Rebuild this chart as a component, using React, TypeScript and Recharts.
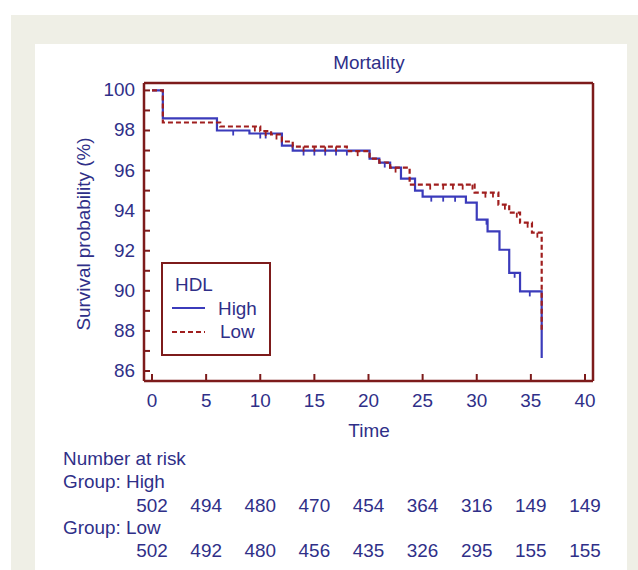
import React from 'react';
import { ComposedChart, Line, Scatter, XAxis, YAxis, Legend, ReferenceLine } from 'recharts';

// ---- data ----
const highTime = [0, 1, 6, 9, 12, 13, 20.1, 21, 22, 23, 24.3, 25, 29, 30, 31, 32.1, 33, 34, 36];
const highSurv = [100, 98.6, 98.0, 97.85, 97.25, 97.0, 96.6, 96.4, 96.15, 95.6, 95.0, 94.7, 94.4, 93.55, 92.97, 92.05, 90.9, 89.97, 86.65];
const lowTime = [0, 1, 6.3, 10, 11, 12, 13, 18, 20.1, 21, 22, 23.8, 29.8, 32, 33, 34, 35.1, 36];
const lowSurv = [100, 98.4, 98.2, 97.97, 97.8, 97.45, 97.2, 96.97, 96.6, 96.4, 96.15, 95.3, 94.9, 94.3, 93.9, 93.4, 92.9, 88.0];
const highCensor = [7.5, 10, 10.5, 14, 15, 16, 17, 18, 21.5, 25.8, 26.9, 28, 30.9, 33.5, 34.9];
const lowCensor = [9.5, 10.5, 11.5, 14, 15, 16, 17, 19, 22.5, 25.7, 26.9, 27.8, 28.7, 29.6, 30.8, 31.5, 32.6, 33.7, 34.7, 35.6];
const xTicks = [0, 5, 10, 15, 20, 25, 30, 35, 40];
const yTicks = [86, 87, 88, 89, 90, 91, 92, 93, 94, 95, 96, 97, 98, 99, 100];
const yLabelTicks = [86, 88, 90, 92, 94, 96, 98, 100];
const riskHigh = [502, 494, 480, 470, 454, 364, 316, 149, 149];
const riskLow = [502, 492, 480, 456, 435, 326, 295, 155, 155];
const groups = ['High', 'Low'];

// ---- styles ----
const AXIS = '#7d1b1b';
const TEXT = '#2f2f88';
const BLUE = '#3b3bbb';
const RED = '#a01e1e';
const FONT = '"Liberation Sans", Arial, sans-serif';
const FS = 17.5;
const SX = 1.08;

const toRows = (ts: number[], ss: number[]) => ts.map((t, i) => ({ t, s: ss[i] }));
const stepAt = (ts: number[], ss: number[], t: number) => {
  let v = ss[0];
  for (let i = 0; i < ts.length; i++) if (ts[i] <= t) v = ss[i];
  return v;
};
const highData = toRows(highTime, highSurv);
const lowData = toRows(lowTime, lowSurv);
const highCensorData = highCensor.map((t) => ({ t, s: stepAt(highTime, highSurv, t) }));
const lowCensorData = lowCensor.map((t) => ({ t, s: stepAt(lowTime, lowSurv, t) }));

const T = ({ x, y, anchor = 'start', children, rotate = 0 }: any) => (
  <text
    transform={`translate(${x} ${y}) rotate(${rotate}) scale(${SX} 1)`}
    textAnchor={anchor}
    fill={TEXT}
    fontFamily={FONT}
    fontSize={FS}
  >
    {children}
  </text>
);

const XTick = (props: any) => {
  const { x, y, payload } = props;
  const i = xTicks.indexOf(payload.value);
  return (
    <g>
      <line x1={x} x2={x} y1={y} y2={y - 7} stroke={AXIS} strokeWidth={2} />
      <T x={x} y={y + 26} anchor="middle">{payload.value}</T>
      <T x={x} y={y + 131} anchor="middle">{riskHigh[i]}</T>
      <T x={x} y={y + 176} anchor="middle">{riskLow[i]}</T>
    </g>
  );
};

const YTick = (props: any) => {
  const { x, y, payload } = props;
  const labeled = yLabelTicks.includes(payload.value);
  return (
    <g>
      <line x1={x} x2={x + 6} y1={y} y2={y} stroke={AXIS} strokeWidth={2} />
      {labeled && <T x={x - 9} y={y + 6} anchor="end">{payload.value}</T>}
    </g>
  );
};

const Censor = ({ cx, cy, color }: any) => (
  <line x1={cx} x2={cx} y1={cy} y2={cy + 5} stroke={color} strokeWidth={1.8} />
);

const LegendBox = () => (
  <svg width={112} height={96} style={{ display: 'block', overflow: 'visible' }}>
    <rect x={1} y={1} width={108} height={92} fill="#fff" stroke={AXIS} strokeWidth={2} />
    <T x={14} y={29}>HDL</T>
    <line x1={11} x2={44} y1={46} y2={46} stroke={BLUE} strokeWidth={2} />
    <T x={57} y={53}>{groups[0]}</T>
    <line x1={11} x2={44} y1={70} y2={70} stroke={RED} strokeWidth={2} strokeDasharray="5 3" />
    <T x={59} y={76}>{groups[1]}</T>
  </svg>
);

const X_DOMAIN: [number, number] = [-0.74, 40.74];
const Y_DOMAIN: [number, number] = [85.5, 100.37];

export default function App() {
  return (
    <div style={{ position: 'absolute', left: 0, top: 0, width: 638, height: 570, background: '#fff', overflow: 'hidden' }}>
      <div style={{ position: 'absolute', left: 11, top: 15, width: 627, height: 555, background: '#efefe6' }} />
      <div style={{ position: 'absolute', left: 35, top: 44, width: 592, height: 526, background: '#fff' }} />
      <div style={{ position: 'absolute', left: 0, top: 0 }}>
        <ComposedChart width={638} height={570} margin={{ top: 83, right: 45, bottom: 159, left: 84 }}>
          <XAxis
            dataKey="t"
            type="number"
            domain={X_DOMAIN}
            ticks={xTicks}
            allowDataOverflow
            height={30}
            tickSize={0}
            tickMargin={0}
            tickLine={false}
            tick={<XTick />}
            axisLine={{ stroke: AXIS, strokeWidth: 2.5 }}
            interval={0}
          />
          <YAxis
            type="number"
            domain={Y_DOMAIN}
            ticks={yTicks}
            allowDataOverflow
            width={60}
            tickSize={0}
            tickMargin={0}
            tickLine={false}
            tick={<YTick />}
            axisLine={{ stroke: AXIS, strokeWidth: 2.5 }}
            interval={0}
          />
          <ReferenceLine y={Y_DOMAIN[1]} stroke={AXIS} strokeWidth={2.5} ifOverflow="visible" />
          <ReferenceLine x={X_DOMAIN[1]} stroke={AXIS} strokeWidth={2.5} ifOverflow="visible" />
          <Line data={highData} dataKey="s" type="stepAfter" stroke={BLUE} strokeWidth={2.2} dot={false} activeDot={false} isAnimationActive={false} />
          <Line data={lowData} dataKey="s" type="stepAfter" stroke={RED} strokeWidth={2.2} strokeDasharray="5 3" dot={false} activeDot={false} isAnimationActive={false} />
          <Scatter data={highCensorData} dataKey="s" shape={<Censor color={BLUE} />} isAnimationActive={false} />
          <Scatter data={lowCensorData} dataKey="s" shape={<Censor color={RED} />} isAnimationActive={false} />
          <Legend
            layout="vertical"
            align="center"
            verticalAlign="middle"
            content={<LegendBox />}
            wrapperStyle={{ left: 161, top: 262, width: 112, height: 96 }}
          />
        </ComposedChart>
      </div>
      <svg width={638} height={570} style={{ position: 'absolute', left: 0, top: 0, pointerEvents: 'none' }}>
        <T x={369} y={68.5} anchor="middle">Mortality</T>
        <T x={369} y={437} anchor="middle">Time</T>
        <T x={90} y={234} anchor="middle" rotate={-90}>Survival probability (%)</T>
        <T x={63} y={465}>Number at risk</T>
        <T x={63} y={488}>{`Group: ${groups[0]}`}</T>
        <T x={63} y={534}>{`Group: ${groups[1]}`}</T>
      </svg>
    </div>
  );
}
